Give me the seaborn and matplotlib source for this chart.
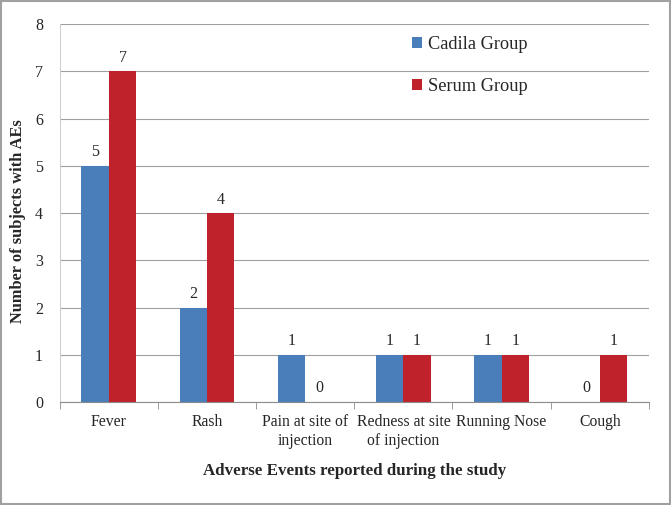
import matplotlib
matplotlib.use("Agg")
import matplotlib.pyplot as plt
import seaborn as sns
import pandas as pd
from matplotlib.patches import Rectangle

# data
events = ["Fever", "Rash", "Pain at site of\ninjection", "Redness at site\nof injection",
          "Running Nose", "Cough"]
cadila = [5, 2, 1, 1, 1, 0]
serum = [7, 4, 0, 1, 1, 1]
groups = ["Cadila Group", "Serum Group"]

df = pd.DataFrame({
    "event": events * 2,
    "count": cadila + serum,
    "group": [groups[0]] * len(events) + [groups[1]] * len(events),
})

sns.set_style("white")
plt.rcParams["font.family"] = ["Liberation Serif", "DejaVu Serif"]

fig = plt.figure(figsize=(6.71, 5.05), dpi=100)
ax = fig.add_axes([0.089, 0.204, 0.878, 0.748])

sns.barplot(data=df, x="event", y="count", hue="group", order=events, hue_order=groups,
            palette=["#4a7ebb", "#c0222b"], width=0.56, saturation=1, linewidth=0, ax=ax)

for c in ax.containers:
    ax.bar_label(c, fmt="%d", padding=4, fontsize=11.5)

ax.set_ylim(0, 8)
ax.set_xlim(-0.5, len(events) - 0.5)
ax.set_yticks(range(0, 9))
ax.yaxis.grid(True, color="#a0a0a0", linewidth=0.8)
ax.set_axisbelow(True)
for s in ["top", "right"]:
    ax.spines[s].set_visible(False)
ax.spines["left"].set_color("#d0d0d0")
ax.spines["bottom"].set_color("#8c8c8c")

ax.set_xticks([i - 0.5 for i in range(len(events) + 1)], minor=True)
ax.tick_params(axis="x", which="major", length=0, labelsize=11.3, pad=9)
ax.tick_params(axis="x", which="minor", length=5, color="#8c8c8c", direction="out")
ax.tick_params(axis="y", length=0, labelsize=11.5, pad=12)
ax.xaxis.set_tick_params(which="minor", bottom=True)
for t in ax.get_xticklabels():
    t.set_linespacing(1.25)

ax.set_xlabel("Adverse Events reported during the study", fontsize=12.2, fontweight="bold",
              labelpad=10)
ax.set_ylabel("Number of subjects with AEs", fontsize=11.8, fontweight="bold")
ax.yaxis.set_label_coords(-0.058, 0.48)

ax.legend(loc="upper left", bbox_to_anchor=(0.57, 1.013), frameon=False, fontsize=13.2,
          handlelength=0.55, handleheight=0.55, handletextpad=0.3, labelspacing=1.37)

fig.patches.append(Rectangle((0.001, 0.001), 0.997, 0.997, transform=fig.transFigure,
                             fill=False, edgecolor="#a0a0a0", linewidth=1.5))

fig.savefig("out.png", dpi=100)
